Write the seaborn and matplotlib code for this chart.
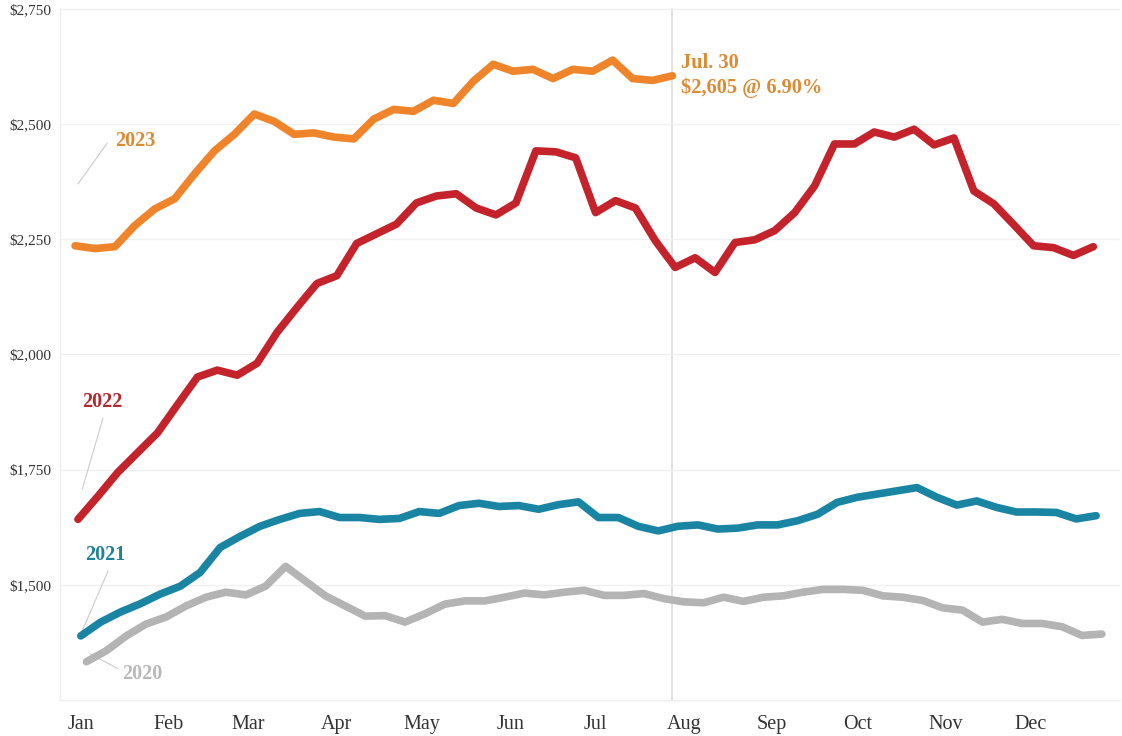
import numpy as np
import pandas as pd
import matplotlib
matplotlib.use("Agg")
import matplotlib.pyplot as plt
import seaborn as sns

# ---- data (weekly values, Sundays) ----
v2020 = [1333, 1357, 1389, 1415, 1430, 1454, 1473, 1484, 1478, 1497, 1540, 1508, 1476,
         1454, 1432, 1433, 1419, 1437, 1458, 1465, 1465, 1473, 1482, 1478, 1484,
         1488, 1477, 1477, 1481, 1470, 1463, 1461, 1473, 1464, 1473, 1476, 1484, 1490,
         1490, 1488, 1476, 1473, 1466, 1450, 1445, 1419, 1425, 1416, 1416, 1409, 1390, 1393]
v2021 = [1389, 1419, 1441, 1459, 1480, 1497, 1527, 1581, 1605, 1627, 1642, 1655, 1659,
         1646, 1646, 1642, 1644, 1659, 1655, 1672, 1677, 1670, 1672, 1664, 1674, 1680,
         1646, 1646, 1627, 1617, 1627, 1630, 1621, 1623, 1630, 1630, 1639, 1653, 1679,
         1690, 1697, 1704, 1711, 1690, 1673, 1682, 1668, 1658, 1658, 1657, 1643, 1650]
v2022 = [1642, 1692, 1744, 1787, 1830, 1891, 1951, 1966, 1955, 1981, 2048, 2102, 2154,
         2171, 2241, 2262, 2283, 2329, 2344, 2349, 2318, 2303, 2329, 2442, 2440, 2427,
         2308, 2334, 2318, 2247, 2189, 2210, 2178, 2243, 2249, 2269, 2308, 2366, 2457,
         2457, 2483, 2472, 2489, 2455, 2470, 2355, 2327, 2282, 2236, 2232, 2215, 2234]
v2023 = [2236, 2230, 2234, 2280, 2316, 2338, 2392, 2442, 2478, 2522, 2506, 2478, 2481,
         2472, 2468, 2511, 2532, 2528, 2552, 2545, 2593, 2630, 2615, 2619, 2599, 2619,
         2615, 2639, 2599, 2595, 2605]
first_sundays = {"2020": "2020-01-05", "2021": "2021-01-03", "2022": "2022-01-02", "2023": "2023-01-01"}
years = ["2020", "2021", "2022", "2023"]
series = {"2020": v2020, "2021": v2021, "2022": v2022, "2023": v2023}
months = ["Jan", "Feb", "Mar", "Apr", "May", "Jun", "Jul", "Aug", "Sep", "Oct", "Nov", "Dec"]
yticks = [1500, 1750, 2000, 2250, 2500, 2750]
last_label = ["Jul. 30", "$2,605 @ 6.90%"]

colors = {"2020": "#B4B4B4", "2021": "#1A85A3", "2022": "#C4232B", "2023": "#F0842A"}
label_colors = {"2020": "#B8B8B8", "2021": "#21809A", "2022": "#B3282F", "2023": "#DC8B35"}

rows = []
for y in years:
    days = pd.date_range(first_sundays[y], periods=len(series[y]), freq="7D").dayofyear
    for d, v in zip(days, series[y]):
        rows.append({"year": y, "day": d, "value": v})
df = pd.DataFrame(rows)

sns.set_style("white")
plt.rcParams["font.family"] = ["Liberation Serif", "DejaVu Serif"]

fig = plt.figure(figsize=(11.22, 7.36), dpi=100)
ax = fig.add_axes([0.0535, 0.049, 0.945, 0.94])

sns.lineplot(data=df, x="day", y="value", hue="year", hue_order=years, palette=colors,
             linewidth=5.5, legend=False, ax=ax, solid_capstyle="round", solid_joinstyle="round")

ax.set_xlim(-4.3, 368.5)
ax.set_ylim(1250, 2752)

# vertical reference line at Jul 30
ax.axvline(211, color="#DDDDDD", lw=1.2, zorder=0)

ax.set_yticks(yticks)
ax.set_yticklabels([f"${t:,}" for t in yticks], fontsize=11, color="#333333")
mdays = pd.date_range("2023-01-01", periods=12, freq="MS").dayofyear
ax.set_xticks(np.array(mdays) + 2)
ax.set_xticklabels(months, fontsize=14.5, color="#333333")
ax.tick_params(axis="both", length=0)
ax.tick_params(axis="x", pad=11)
ax.tick_params(axis="y", pad=6)
ax.set_xlabel("")
ax.set_ylabel("")
ax.grid(axis="y", color="#F0F0F0", lw=1)
for s in ["top", "right"]:
    ax.spines[s].set_visible(False)
for s in ["left", "bottom"]:
    ax.spines[s].set_color("#EEEEEE")
    ax.spines[s].set_linewidth(1)

# year labels with leader lines
lab = {
    "2023": ((15, 2463), (2, 2370), (12.3, 2459)),
    "2022": ((3.5, 1897), (3.5, 1707), (10.8, 1862)),
    "2021": ((4.5, 1564), (3.5, 1400), (12.6, 1530)),
    "2020": ((17.5, 1307), (6.3, 1350), (16, 1318)),
}
for y, (txt, p0, p1) in lab.items():
    ax.plot([p0[0], p1[0]], [p0[1], p1[1]], color="#CCCCCC", lw=0.8, zorder=1)
    ax.text(txt[0], txt[1], y, color=label_colors[y], fontsize=14.5, fontweight="bold",
            ha="left", va="center")

ax.text(214, 2632, last_label[0], color="#DC8B35", fontsize=14.7, fontweight="bold",
        ha="left", va="center")
ax.text(214, 2580, last_label[1], color="#DC8B35", fontsize=14.7, fontweight="bold",
        ha="left", va="center")

fig.savefig("out.png", dpi=100)
